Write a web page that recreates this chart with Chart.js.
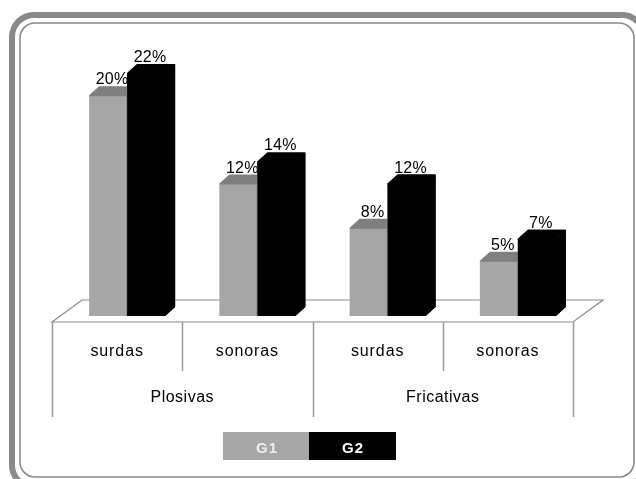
<!DOCTYPE html>
<html>
<head>
<meta charset="utf-8">
<script src="https://cdn.jsdelivr.net/npm/chart.js@4/dist/chart.umd.min.js"></script>
<style>
  html, body { margin: 0; padding: 0; background: #fff; }
  #wrap { width: 636px; height: 479px; }
  canvas { display: block; }
</style>
</head>
<body>
<div id="wrap"><canvas id="c" width="636" height="479"></canvas></div>
<script>
// Categories: consonant voicing within each manner group
const subLabels = ['surdas', 'sonoras', 'surdas', 'sonoras'];
const groupLabels = ['Plosivas', 'Fricativas'];
const seriesNames = ['G1', 'G2'];
// Percent values per series
const g1Values = [20, 12, 8, 5];
const g2Values = [22, 14, 12, 7];

const FONT = '"Liberation Sans", Arial, sans-serif';
const G1_FRONT = '#a6a6a6', G1_TOP = '#7f7f7f', G1_SIDE = '#8c8c8c';
const G2_FRONT = '#000000', G2_TOP = '#000000', G2_SIDE = '#000000';

// pseudo-3D geometry
const BAR_DX = 10, BAR_DY = 9;        // depth of each bar
const FLOOR_SHIFT = 10;               // floor front edge is left of bar plane
const FLOOR_FRONT = 6;                // floor front edge below bar base
const FLOOR_DX = 30, FLOOR_DY = 22;   // floor depth

const faceColors = [[G1_TOP, G1_SIDE], [G2_TOP, G2_SIDE]];

function roundRect(ctx, x, y, w, h, r) {
  ctx.beginPath();
  ctx.moveTo(x + r, y);
  ctx.lineTo(x + w - r, y);
  ctx.arcTo(x + w, y, x + w, y + r, r);
  ctx.lineTo(x + w, y + h - r);
  ctx.arcTo(x + w, y + h, x + w - r, y + h, r);
  ctx.lineTo(x + r, y + h);
  ctx.arcTo(x, y + h, x, y + h - r, r);
  ctx.lineTo(x, y + r);
  ctx.arcTo(x, y, x + r, y, r);
  ctx.closePath();
}

// top and right faces of every bar of one dataset (tucked 1px under the front face)
function drawFaces(ctx, meta, idx) {
  const [topC, sideC] = faceColors[idx];
  meta.data.forEach(bar => {
    const l = bar.x - bar.width / 2, r = bar.x + bar.width / 2;
    const t = bar.y, b = bar.base;
    ctx.fillStyle = topC;
    ctx.beginPath();
    ctx.moveTo(l, t + 1);
    ctx.lineTo(l, t);
    ctx.lineTo(l + BAR_DX, t - BAR_DY);
    ctx.lineTo(r + BAR_DX, t - BAR_DY);
    ctx.lineTo(r, t);
    ctx.lineTo(r - 1, t + 1);
    ctx.closePath();
    ctx.fill();
    ctx.fillStyle = sideC;
    ctx.beginPath();
    ctx.moveTo(r - 1, t);
    ctx.lineTo(r, t);
    ctx.lineTo(r + BAR_DX, t - BAR_DY);
    ctx.lineTo(r + BAR_DX, b - BAR_DY);
    ctx.lineTo(r, b);
    ctx.lineTo(r - 1, b);
    ctx.closePath();
    ctx.fill();
  });
}

const framePlugin = {
  id: 'frame',
  beforeDraw(chart) {
    const ctx = chart.ctx;
    ctx.save();
    ctx.fillStyle = '#fff';
    ctx.fillRect(0, 0, chart.width, chart.height);
    ctx.strokeStyle = '#8a8a8a';
    ctx.lineWidth = 6;
    roundRect(ctx, 12, 15, 632, 472, 22);
    ctx.stroke();
    ctx.lineWidth = 1.6;
    roundRect(ctx, 20, 23, 614, 454, 15);
    ctx.stroke();
    ctx.restore();
  }
};

const floorPlugin = {
  id: 'floor',
  beforeDatasetsDraw(chart) {
    const ctx = chart.ctx, a = chart.chartArea;
    const x0 = a.left - FLOOR_SHIFT, x1 = a.right - FLOOR_SHIFT;
    const yF = a.bottom + FLOOR_FRONT;
    ctx.save();
    ctx.fillStyle = '#ffffff';
    ctx.strokeStyle = '#8c8c8c';
    ctx.lineWidth = 1.2;
    ctx.beginPath();
    ctx.moveTo(x0, yF);
    ctx.lineTo(x1, yF);
    ctx.lineTo(x1 + FLOOR_DX, yF - FLOOR_DY);
    ctx.lineTo(x0 + FLOOR_DX, yF - FLOOR_DY);
    ctx.closePath();
    ctx.fill();
    ctx.stroke();

    // category table under the floor
    const n = subLabels.length;
    const band = (x1 - x0) / n;
    ctx.strokeStyle = '#9a9a9a';
    ctx.lineWidth = 1.5;
    for (let i = 0; i <= n; i++) {
      const x = Math.round(x0 + i * band) + 0.5;
      const long = (i % 2 === 0);
      ctx.beginPath();
      ctx.moveTo(x, yF);
      ctx.lineTo(x, yF + (long ? 95 : 49));
      ctx.stroke();
    }
    ctx.fillStyle = '#000';
    ctx.textAlign = 'center';
    ctx.textBaseline = 'alphabetic';
    ctx.font = '16px ' + FONT;
    ctx.letterSpacing = '0.9px';
    subLabels.forEach((t, i) => {
      ctx.fillText(t, x0 + (i + 0.5) * band, yF + 34);
    });
    ctx.letterSpacing = '0.5px';
    groupLabels.forEach((t, i) => {
      ctx.fillText(t, x0 + (i + 0.5) * 2 * band, yF + 79.5);
    });
    ctx.restore();
  }
};

const depthPlugin = {
  id: 'depth',
  afterDatasetDraw(chart, args) {
    const ctx = chart.ctx;
    ctx.save();
    drawFaces(ctx, args.meta, args.index);
    ctx.restore();
  },
  afterDatasetsDraw(chart) {
    const ctx = chart.ctx;
    ctx.save();
    // the right-hand series sits in front of the left-hand one's side face
    const front = chart.getDatasetMeta(1);
    front.data.forEach(el => el.draw(ctx, chart.chartArea));
    drawFaces(ctx, front, 1);

    ctx.fillStyle = '#000';
    ctx.font = '16px ' + FONT;
    ctx.letterSpacing = '0.3px';
    ctx.textAlign = 'center';
    ctx.textBaseline = 'alphabetic';
    chart.data.datasets.forEach((ds, di) => {
      chart.getDatasetMeta(di).data.forEach((bar, i) => {
        ctx.fillText(ds.data[i] + '%', bar.x + 4, bar.y - 11);
      });
    });
    ctx.restore();
  }
};

const legendPlugin = {
  id: 'boxLegend',
  afterDraw(chart) {
    const ctx = chart.ctx;
    const boxW = 87, boxH = 28, y = 432;
    const startX = 223;
    const fills = [G1_FRONT, G2_FRONT];
    const inks = ['#eeeeee', '#ffffff'];
    ctx.save();
    ctx.font = 'bold 15px ' + FONT;
    ctx.letterSpacing = '1px';
    ctx.textAlign = 'center';
    ctx.textBaseline = 'alphabetic';
    seriesNames.forEach((name, i) => {
      const x = startX + i * (boxW - 1);
      ctx.fillStyle = fills[i];
      ctx.fillRect(x, y, boxW, boxH);
      ctx.fillStyle = inks[i];
      ctx.fillText(name, x + boxW / 2 + 0.5, y + 21);
    });
    ctx.restore();
  }
};

new Chart(document.getElementById('c'), {
  type: 'bar',
  data: {
    labels: subLabels,
    datasets: [
      { label: seriesNames[0], data: g1Values, backgroundColor: G1_FRONT,
        categoryPercentage: 0.5835, barPercentage: 1, borderWidth: 0 },
      { label: seriesNames[1], data: g2Values, backgroundColor: G2_FRONT,
        categoryPercentage: 0.5835, barPercentage: 1, borderWidth: 0 }
    ]
  },
  options: {
    responsive: false,
    animation: false,
    devicePixelRatio: 1,
    layout: { padding: { left: 62, right: 53, top: 40, bottom: 163 } },
    plugins: { legend: { display: false }, tooltip: { enabled: false } },
    scales: {
      x: { display: false },
      y: { display: false, min: 0, max: 25 }
    }
  },
  plugins: [framePlugin, floorPlugin, depthPlugin, legendPlugin]
});
</script>
</body>
</html>
